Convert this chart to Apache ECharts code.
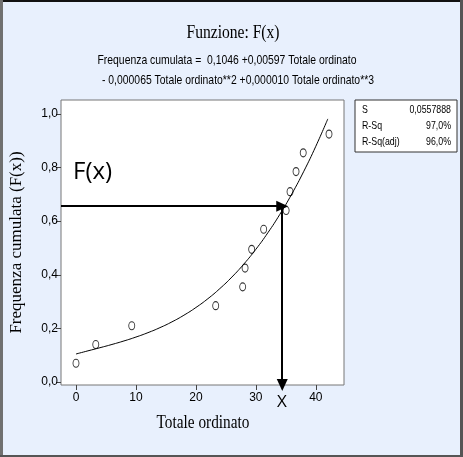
<!DOCTYPE html>
<html>
<head>
<meta charset="utf-8">
<script src="https://cdn.jsdelivr.net/npm/echarts@6/dist/echarts.min.js"></script>
<style>
html,body{margin:0;padding:0;background:#E8F0FD;}
#c{width:463px;height:457px;}
</style>
</head>
<body>
<div id="c"></div>
<script>
// Observed data points
var totaleOrdinato = [0, 3.3, 9.3, 23.3, 27.8, 28.2, 29.3, 31.3, 35.05, 35.7, 36.7, 37.9, 42.2];
var frequenzaCumulata = [0.07, 0.14, 0.21, 0.285, 0.355, 0.425, 0.495, 0.57, 0.64, 0.71, 0.785, 0.855, 0.925];
// Fitted curve
var curveX = [0, 2, 4, 6, 8, 10, 12, 14, 16, 18, 20, 22, 24, 26, 28, 30, 32, 34, 36, 38, 40, 42];
var curveY = [0.1046, 0.1164, 0.1281, 0.1402, 0.1533, 0.1678, 0.1842, 0.2029, 0.2244, 0.2493, 0.278, 0.3109, 0.3487, 0.3916, 0.4403, 0.4952, 0.5568, 0.6255, 0.7018, 0.7863, 0.8794, 0.9815];
// Arrow reading
var arrowLevel = [0.656];
var arrowX = [34.4];
// Ticks
var xTicks = [0, 10, 20, 30, 40];
var yTicks = [0, 0.2, 0.4, 0.6, 0.8, 1.0];
var statsNames = ['S', 'R-Sq', 'R-Sq(adj)'];
var statsValues = ['0,0557888', '97,0%', '96,0%'];

var xMin = -2.5, xMax = 44.7, yMin = -0.011, yMax = 1.052;
var sans = "'Liberation Sans',sans-serif";
var serif = "'Liberation Serif','DejaVu Serif',serif";

var scatterData = totaleOrdinato.map(function(x, i){ return [x, frequenzaCumulata[i]]; });
var lineData = curveX.map(function(x, i){ return [x, curveY[i]]; });

var chart = echarts.init(document.getElementById('c'), null, {renderer: 'canvas'});

var statsGraphics = [{
  type: 'rect', shape: {x: 355, y: 100, width: 102, height: 52},
  style: {fill: '#fff', stroke: '#333', lineWidth: 1}
}];
statsNames.forEach(function(n, i){
  statsGraphics.push({type: 'text', x: 362, y: 104 + i*16, scaleX: 0.8,
    style: {text: n, font: '11px ' + sans, fill: '#000'}});
  statsGraphics.push({type: 'text', x: 451, y: 104 + i*16, scaleX: 0.8,
    style: {text: statsValues[i], font: '11px ' + sans, fill: '#000', textAlign: 'right'}});
});

function ctext(str, x, y, font, sx){
  return {type: 'text', x: x, y: y, scaleX: sx, z: 50,
    style: {text: str, font: font, fill: '#000', textAlign: 'center', textVerticalAlign: 'middle'}};
}

var option = {
  backgroundColor: '#E8F0FD',
  animation: false,
  grid: {left: 61, top: 100, width: 283, height: 285, show: true,
    backgroundColor: '#fff', borderColor: '#777', borderWidth: 1, containLabel: false},
  xAxis: {
    type: 'value', min: xMin, max: xMax,
    axisLine: {show: false, onZero: false},
    splitLine: {show: false},
    axisTick: {show: true, inside: false, length: 5, customValues: xTicks, lineStyle: {color: '#444'}},
    axisLabel: {customValues: xTicks, fontFamily: sans, fontSize: 12, color: '#000', margin: 7}
  },
  yAxis: {
    type: 'value', min: yMin, max: yMax,
    name: 'Frequenza cumulata (F(x))', nameLocation: 'middle', nameGap: 36,
    nameTextStyle: {fontFamily: serif, fontSize: 17, color: '#000'},
    axisLine: {show: false, onZero: false},
    splitLine: {show: false},
    axisTick: {show: true, inside: false, length: 5, customValues: yTicks, lineStyle: {color: '#444'}},
    axisLabel: {customValues: yTicks, fontFamily: sans, fontSize: 12, color: '#000', margin: 3,
      formatter: function(v){ return v.toFixed(1).replace('.', ','); }}
  },
  series: [
    {
      type: 'line', data: lineData, smooth: true, showSymbol: false, symbol: 'none',
      lineStyle: {color: '#000', width: 1}, z: 2,
      markLine: {
        silent: true, symbol: ['none', 'triangle'], symbolSize: [11, 12],
        label: {show: false},
        lineStyle: {color: '#000', width: 2, type: 'solid'},
        data: [
          [{coord: [xMin, arrowLevel[0]]}, {coord: [arrowX[0], arrowLevel[0]]}],
          [{coord: [arrowX[0], arrowLevel[0]]}, {coord: [arrowX[0], yMin]}]
        ]
      }
    },
    {
      type: 'scatter', data: scatterData, symbol: 'circle', symbolSize: [6, 8],
      itemStyle: {color: 'rgba(255,255,255,0)', borderColor: '#000', borderWidth: 1}, z: 3
    }
  ],
  graphic: [
    {type: 'rect', shape: {x: 0, y: 0, width: 463, height: 2}, style: {fill: '#111'}, z: 100},
    {type: 'rect', shape: {x: 0, y: 0, width: 3, height: 457}, style: {fill: '#707070'}, z: 100},
    {type: 'rect', shape: {x: 460, y: 0, width: 3, height: 457}, style: {fill: '#555'}, z: 100},
    {type: 'rect', shape: {x: 0, y: 455, width: 463, height: 2}, style: {fill: '#555'}, z: 100},
    ctext('Funzione: F(x)', 233, 33, '19px ' + serif, 0.82),
    ctext('Frequenza cumulata =  0,1046 +0,00597 Totale ordinato', 227, 60, '13px ' + sans, 0.8),
    ctext('- 0,000065 Totale ordinato**2 +0,000010 Totale ordinato**3', 238, 80, '13px ' + sans, 0.8),
    ctext('Totale ordinato', 203, 423, '18px ' + serif, 0.85),
    {type: 'text', x: 73, y: 160, z: 50,
     style: {text: 'F(x)', font: '24px "Open Sans", sans-serif', fill: '#000'}},
    {type: 'text', x: 282, y: 394, z: 50,
     style: {text: 'X', font: '17px "Open Sans", sans-serif', fill: '#000', textAlign: 'center'}},
    {type: 'group', z: 50, children: statsGraphics}
  ]
};
chart.setOption(option);
</script>
</body>
</html>
